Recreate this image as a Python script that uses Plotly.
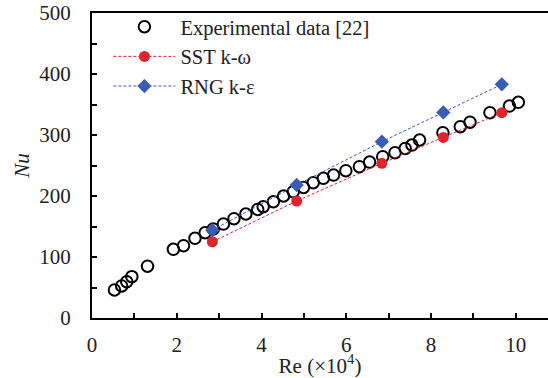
import plotly.graph_objects as go

# Experimental data [22]
exp_re = [0.53, 0.70, 0.82, 0.94, 1.31, 1.92, 2.16, 2.43, 2.67, 2.86, 3.10, 3.35, 3.63,
          3.91, 4.04, 4.28, 4.52, 4.75, 4.99, 5.22, 5.46, 5.70, 5.99, 6.31, 6.55,
          6.86, 7.15, 7.39, 7.55, 7.73, 8.28, 8.69, 8.92, 9.39, 9.85, 10.06]
exp_nu = [46, 52.5, 59.5, 67.8, 85, 112.6, 118.6, 130.6, 139.9, 146, 154, 162.8, 170.5,
          178, 182.5, 190.7, 200, 207, 214, 221.8, 229, 234.4, 241.5, 248, 255.7,
          264.4, 271, 278, 283.6, 291.8, 303.8, 313.6, 321, 336.6, 347.5, 353.6]

# CFD results
cfd_re = [2.84, 4.83, 6.84, 8.29, 9.67]
sst_nu = [125, 191.8, 253.6, 296, 336.6]
rng_nu = [144, 218, 289, 337, 383]

x_tickvals = [0, 2, 4, 6, 8, 10]
x_ticktext = ["0", "2", "4", "6", "8", "10"]
y_tickvals = [0, 100, 200, 300, 400, 500]
y_ticktext = ["0", "100", "200", "300", "400", "500"]

FONT = "Liberation Serif"
TXT = "#222"
RED = "#e0242c"
BLUE = "#3a5cb4"

fig = go.Figure()
fig.add_trace(go.Scatter(
    x=exp_re, y=exp_nu, mode="markers", name="Experimental data [22]",
    marker=dict(symbol="circle-open", size=11.5, color="black", line=dict(width=2, color="black")),
))
fig.add_trace(go.Scatter(
    x=cfd_re, y=sst_nu, mode="lines+markers", name="SST k-ω",
    line=dict(color=RED, width=1, dash="3px,2px"),
    marker=dict(symbol="circle", size=11, color=RED),
))
fig.add_trace(go.Scatter(
    x=cfd_re, y=rng_nu, mode="lines+markers", name="RNG k-ε",
    line=dict(color=BLUE, width=1, dash="3px,2px"),
    marker=dict(symbol="diamond", size=11, color=BLUE),
))

axis_common = dict(
    showline=True, linecolor="black", linewidth=2, ticks="inside", ticklen=5,
    tickwidth=1.5, tickcolor="black", showgrid=False, zeroline=False,
    automargin=False, ticklabeloverflow="allow",
    tickfont=dict(family=FONT, size=21, color=TXT),
)

fig.update_layout(
    width=548, height=378,
    margin=dict(l=92, r=0, t=13, b=60),
    plot_bgcolor="white", paper_bgcolor="white",
    font=dict(family=FONT, size=21, color=TXT),
    showlegend=True,
    legend=dict(
        x=0.036, y=1.02, xanchor="left", yanchor="top",
        bgcolor="rgba(0,0,0,0)", itemwidth=62,
        font=dict(family=FONT, size=20.5, color=TXT),
        tracegroupgap=0,
    ),
    xaxis=dict(
        range=[0, 10.76], tickmode="array", tickvals=x_tickvals, ticktext=x_ticktext,
        minor=dict(dtick=1, tick0=0, ticks="inside", ticklen=5, tickwidth=1.5,
                   tickcolor="black", showgrid=False),
        mirror=True, ticklabelstandoff=7,
        title=dict(text="Re (×10<sup>4</sup>)", font=dict(family=FONT, size=21, color=TXT), standoff=0),
        **axis_common,
    ),
    yaxis=dict(
        range=[0, 500], tickmode="array", tickvals=y_tickvals, ticktext=y_ticktext,
        minor=dict(dtick=50, tick0=0, ticks="inside", ticklen=5, tickwidth=1.5,
                   tickcolor="black", showgrid=False),
        mirror=False, ticklabelstandoff=15,
        title=dict(text="<i>Nu</i>", font=dict(family=FONT, size=21, color=TXT), standoff=4),
        **axis_common,
    ),
)

# remove the browser's default 8px page margin so the figure fills the window
fig.write_html("out.html", config={"displayModeBar": False},
               post_script="document.body.style.margin='0';")
